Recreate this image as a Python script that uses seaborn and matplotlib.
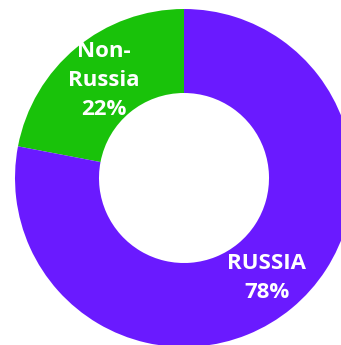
import numpy as np
import matplotlib
matplotlib.use("Agg")
import matplotlib.pyplot as plt
import seaborn as sns

# Share of supply by origin
categories = ["Non-\nRussia", "RUSSIA"]
shares = [22, 78]
colors = ["#19c20a", "#6a1aff"]

sns.set_theme(style="white")
plt.rcParams["font.family"] = ["Open Sans", "DejaVu Sans"]

W, H = 341, 345
fig = plt.figure(figsize=(W / 100, H / 100), dpi=100)
ax = fig.add_axes([0, 0, 1, 1])

# Ring centre and radius in pixels; the ring runs off the right and bottom edges
cx, cy, R = 184, 178, 169

wedges, _ = ax.pie(shares, colors=colors, startangle=90, counterclock=True,
                   radius=1.0, wedgeprops=dict(width=0.497, linewidth=0))
ax.set_xlim(-cx / R, (W - cx) / R)
ax.set_ylim(-(H - cy) / R, cy / R)
ax.axis("off")

for w, cat, val, rr in zip(wedges, categories, shares, [0.745, 0.77]):
    ang = np.deg2rad((w.theta1 + w.theta2) / 2)
    ax.text(rr * np.cos(ang), rr * np.sin(ang), f"{cat}\n{val}%",
            ha="center", va="center", color="white", fontsize=16,
            fontweight="bold", linespacing=1.5)

fig.savefig("out.png", dpi=100)
